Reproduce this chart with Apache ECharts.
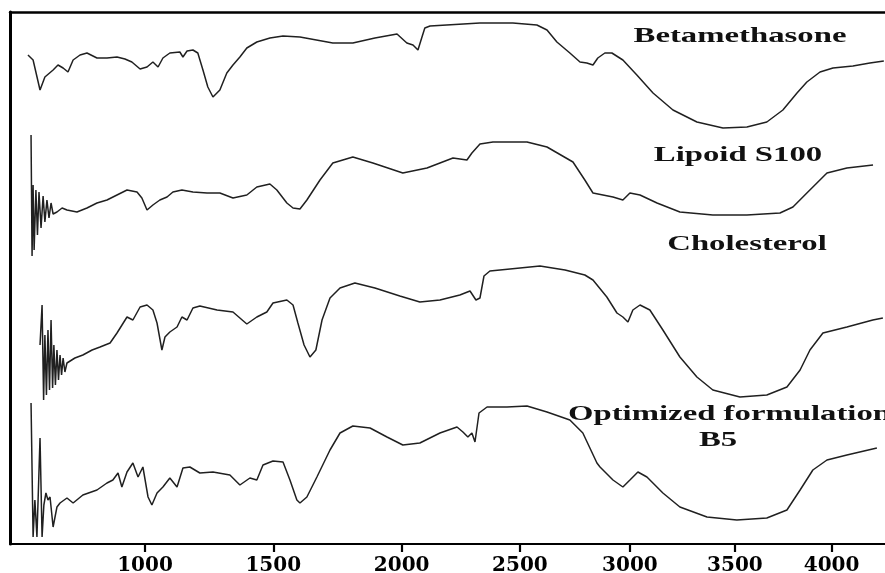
<!DOCTYPE html>
<html>
<head>
<meta charset="utf-8">
<script src="https://cdn.jsdelivr.net/npm/echarts@6/dist/echarts.min.js"></script>
<style>html,body{margin:0;padding:0;background:#fff}#c{width:885px;height:573px}</style>
</head>
<body>
<div id="c"></div>
<script>
// Wavenumber (cm-1) tick labels and the reference's (non-uniform) axis calibration
var tickValues = [1000, 1500, 2000, 2500, 3000, 3500, 4000];
var tickLabels = ['1000', '1500', '2000', '2500', '3000', '3500', '4000'];
var axisWarp = [1000, 1560.5, 2121.4, 2638.3, 3118.8, 3577.5, 4000];
var xRange = [474, 4276];

var seriesNames = ['Betamethasone', 'Lipoid S100', 'Cholesterol', 'Optimized formulation\nB5'];

var betamethasone = [[544,122.25],[564,121],[591,113.5],[610,116.75],[642,118.5],[661,119.75],[681,119],[700,118],[720,121],[747,122.25],[774,122.75],[813,121.5],[852,121.5],[891,121.75],[922,121.25],[949,120.5],[981,118.75],[1008,119.25],[1031,120.5],[1051,119.25],[1070,121.5],[1097,122.75],[1136,123],[1148,121.75],[1164,123.25],[1187,123.5],[1206,122.75],[1226,118.5],[1245,114.25],[1265,111.75],[1292,113.5],[1319,117.75],[1343,119.75],[1370,121.75],[1397,124],[1436,125.5],[1487,126.5],[1538,127],[1604,126.75],[1732,125.25],[1810,125.25],[1896,126.5],[1982,127.5],[2022,125.25],[2048,124.75],[2069,123.5],[2086,126.75],[2098,129],[2120,129.5],[2331,130.25],[2470,130.25],[2577,129.75],[2623,128.5],[2668,125.5],[2727,122.75],[2773,120.5],[2804,120.25],[2832,119.75],[2854,121.5],[2886,122.75],[2918,122.75],[2968,121],[3033,117.25],[3110,112.75],[3205,108.5],[3319,105.5],[3443,104],[3562,104.25],[3665,105.5],[3748,108.5],[3821,112.75],[3872,115.5],[3940,118],[4007,119],[4110,119.5],[4198,120.25],[4270,120.75]];

var lipoid = [[556,102.25],[560,72],[564,89.75],[568,73.5],[575,88.5],[581,77.25],[587,88],[595,79],[603,87],[610,80.5],[618,86],[626,81.5],[634,85.25],[642,82.5],[657,83],[677,84],[696,83.5],[735,83],[774,84],[813,85.25],[852,86],[891,87.25],[930,88.5],[969,88],[988,86.5],[1008,83.5],[1031,84.75],[1058,86],[1086,86.75],[1109,88],[1144,88.5],[1187,88],[1242,87.75],[1292,87.75],[1343,86.5],[1397,87.25],[1436,89.25],[1487,90],[1514,88.5],[1553,85.25],[1577,84],[1604,83.75],[1631,86],[1682,91],[1732,95.25],[1810,96.75],[1888,95.25],[2005,92.75],[2107,94],[2217,96.5],[2276,96],[2297,97.75],[2331,100],[2386,100.5],[2532,100.5],[2623,99.25],[2741,95.5],[2795,91],[2832,87.75],[2923,86.75],[2968,86],[3000,87.75],[3048,87.25],[3129,85.25],[3238,83],[3395,82.25],[3562,82.25],[3733,82.75],[3800,84.25],[3872,87.75],[3924,90.25],[3976,92.75],[4079,94],[4214,94.75]];

var cholesterol = [[591,49.75],[599,59.75],[605,36],[610,52.25],[616,37.25],[622,53.5],[628,38.5],[634,56],[640,39],[645,49.75],[651,39.75],[657,48.5],[663,41],[669,47.25],[675,42.25],[681,46.5],[688,43],[696,45.25],[727,46.5],[758,47.25],[794,48.5],[825,49.25],[864,50.25],[891,52.75],[930,56.75],[953,56],[981,59.25],[1008,59.75],[1031,58.5],[1047,55.25],[1066,48.5],[1078,51.75],[1097,53],[1125,54.25],[1144,56.75],[1164,56],[1187,59],[1214,59.5],[1281,58.5],[1343,58],[1397,55],[1436,56.75],[1475,58],[1499,60.25],[1553,61],[1577,59.75],[1596,55.25],[1620,49.75],[1643,46.75],[1666,48.5],[1690,56],[1721,61.5],[1760,64],[1818,65.25],[1896,64],[1993,62],[2077,60.5],[2162,61],[2246,62.25],[2289,63.25],[2314,61],[2331,61.5],[2348,67],[2373,68.25],[2458,68.75],[2591,69.5],[2705,68.5],[2795,67.25],[2832,66],[2895,61.75],[2941,57.75],[2968,56.75],[2991,55.5],[3014,58.5],[3048,59.75],[3095,58.5],[3157,53.5],[3238,46.75],[3319,41.75],[3395,38.5],[3526,36.75],[3665,37.25],[3769,39.25],[3837,43.5],[3888,48.5],[3955,52.75],[4079,54.25],[4213,56],[4265,56.5]];

var formulationB5 = [[556,35.25],[564,1.75],[571,11],[579,1.75],[591,26.5],[599,1.75],[606,9.75],[614,12.75],[622,11],[630,11.75],[642,4.25],[657,9.25],[669,10.25],[696,11.5],[720,10.25],[758,12.25],[813,13.5],[852,15.25],[875,16],[895,17.75],[910,14.25],[930,18],[953,20.25],[973,16.75],[992,19.25],[1012,11.75],[1027,9.75],[1047,12.75],[1070,14.25],[1097,16.5],[1125,14.25],[1148,19],[1175,19.25],[1214,17.75],[1265,18],[1331,17.25],[1370,14.75],[1409,16.5],[1436,16],[1460,19.75],[1499,20.75],[1538,20.5],[1565,16],[1592,11],[1604,10.25],[1631,11.75],[1670,16.75],[1721,23.5],[1760,27.75],[1810,29.5],[1877,29],[1943,26.75],[2005,24.75],[2077,25.25],[2162,27.75],[2234,29.25],[2259,28],[2280,26.75],[2297,27.75],[2310,25.5],[2327,32.75],[2361,34.25],[2445,34.25],[2532,34.5],[2623,33],[2727,31],[2786,27.75],[2850,20.25],[2864,19.25],[2923,16],[2968,14.25],[3000,16],[3038,18],[3081,16.75],[3157,12.75],[3238,9.25],[3367,6.75],[3510,6],[3665,6.5],[3769,8.5],[3837,13.5],[3903,18.5],[3976,21],[4079,22.25],[4234,24]];

// piecewise-linear calibration of the reference's x axis
function warp(w) {
  var n = tickValues.length;
  if (w <= tickValues[0]) {
    var s0 = (axisWarp[1] - axisWarp[0]) / (tickValues[1] - tickValues[0]);
    return axisWarp[0] + (w - tickValues[0]) * s0;
  }
  for (var i = 0; i < n - 1; i++) {
    if (w <= tickValues[i + 1]) {
      var s = (axisWarp[i + 1] - axisWarp[i]) / (tickValues[i + 1] - tickValues[i]);
      return axisWarp[i] + (w - tickValues[i]) * s;
    }
  }
  var s1 = (axisWarp[n - 1] - axisWarp[n - 2]) / (tickValues[n - 1] - tickValues[n - 2]);
  return axisWarp[n - 1] + (w - tickValues[n - 1]) * s1;
}
function conv(arr) { return arr.map(function (p) { return [warp(p[0]), p[1]]; }); }
function labelFor(v) {
  var best = 0, d = Infinity;
  for (var i = 0; i < axisWarp.length; i++) {
    var dd = Math.abs(axisWarp[i] - v);
    if (dd < d) { d = dd; best = i; }
  }
  return tickLabels[best];
}

var chart = echarts.init(document.getElementById('c'), null, { renderer: 'canvas' });
var lineStyle = { color: '#202020', width: 1.5 };
function mk(name, data) {
  return { name: name, type: 'line', data: conv(data), showSymbol: false, symbol: 'none',
    lineStyle: lineStyle, itemStyle: { color: '#202020' }, silent: true, clip: true };
}
var labelFont = 'bold 21px "Liberation Serif", "Times New Roman", serif';
function txt(t, x, y, align) {
  return { type: 'text', x: x, y: y, scaleX: 1.56, scaleY: 1, silent: true,
    style: { text: t, font: labelFont, fill: '#111', align: align || 'center', verticalAlign: 'middle',
      textAlign: align || 'center', textVerticalAlign: 'middle' } };
}

chart.setOption({
  animation: false,
  backgroundColor: '#fff',
  grid: { left: 10, right: 0, top: 12, bottom: 29, containLabel: false, outerBoundsMode: 'none' },
  xAxis: [{
    type: 'value', position: 'bottom', min: warp(xRange[0]), max: warp(xRange[1]),
    axisLine: { show: true, onZero: false, lineStyle: { color: '#000', width: 2.2 } },
    axisTick: { show: true, inside: false, length: 8, customValues: axisWarp, lineStyle: { color: '#000', width: 2.2 } },
    axisLabel: { show: true, customValues: axisWarp, margin: 12, formatter: labelFor,
      fontFamily: '"DejaVu Serif", serif', fontWeight: 'bold', fontSize: 20, color: '#000' },
    splitLine: { show: false }
  }, {
    type: 'value', position: 'top', min: warp(xRange[0]), max: warp(xRange[1]),
    axisLine: { show: true, onZero: false, lineStyle: { color: '#000', width: 2.5 } },
    axisTick: { show: false }, axisLabel: { show: false }, splitLine: { show: false }
  }],
  yAxis: {
    type: 'value', min: 0, max: 133,
    axisLine: { show: true, onZero: false, lineStyle: { color: '#000', width: 3 } },
    axisTick: { show: false }, axisLabel: { show: false }, splitLine: { show: false }
  },
  series: [
    mk(seriesNames[0], betamethasone),
    mk(seriesNames[1], lipoid),
    mk(seriesNames[2], cholesterol),
    mk(seriesNames[3], formulationB5)
  ],
  graphic: [
    txt('Betamethasone', 740, 37),
    txt('Lipoid S100', 738, 156),
    txt('Cholesterol', 747, 245),
    txt('Optimized formulation', 568, 415, 'left'),
    txt('B5', 718, 441)
  ]
});
</script>
</body>
</html>
